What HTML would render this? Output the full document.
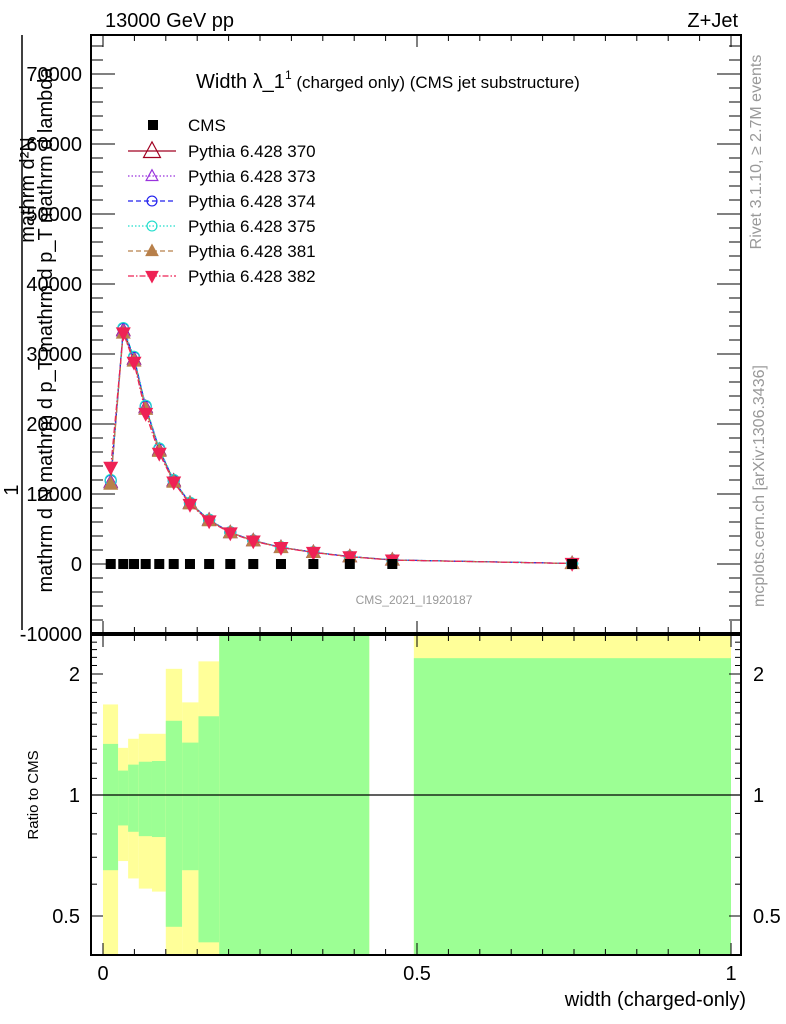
<!DOCTYPE html>
<html><head><meta charset="utf-8"><style>
body{margin:0;background:#fff}
svg{display:block;font-family:"Liberation Sans",sans-serif}
</style></head><body>
<svg id="c" width="786" height="1024" viewBox="0 0 786 1024">
<g id="ratio"></g>
<g id="main"></g>
<text x="105" y="27" font-size="20">13000 GeV pp</text>
<text x="738" y="27" font-size="20" text-anchor="end">Z+Jet</text>
<text x="196" y="88" font-size="20">Width λ_1<tspan font-size="12" dy="-9">1</tspan><tspan font-size="17" dy="9"> (charged only) (CMS jet substructure)</tspan></text>
<text x="414" y="604" font-size="12" fill="#999" text-anchor="middle">CMS_2021_I1920187</text>
<text transform="translate(761,152) rotate(-90)" font-size="16" fill="#999" text-anchor="middle">Rivet 3.1.10, ≥ 2.7M events</text>
<text transform="translate(764,486) rotate(-90)" font-size="16" fill="#999" text-anchor="middle">mcplots.cern.ch [arXiv:1306.3436]</text>
<g>
<text transform="translate(34,190) rotate(-90)" font-size="20" text-anchor="middle">mathrm d²N</text>
<line x1="22" y1="35" x2="22" y2="630" stroke="#000" stroke-width="1.5"/>
<text transform="translate(52,330) rotate(-90)" font-size="20" text-anchor="middle">mathrm d N mathrm d p_T mathrm d p_T mathrm d lambda</text>
<text transform="translate(18,490) rotate(-90)" font-size="20" text-anchor="middle">1</text>
</g>
<text transform="translate(38,795) rotate(-90)" font-size="15" text-anchor="middle">Ratio to CMS</text>
<text x="746" y="1006" font-size="20" text-anchor="end">width (charged-only)</text>
</svg>
<script>
const xEdges=[0,0.024,0.04,0.057,0.078,0.1,0.126,0.152,0.185,0.424,0.495,1.0];
const bandYellowHi=[1.68,1.31,1.38,1.42,1.42,2.06,1.70,2.15,3,null,3];
const bandGreenHi=[1.34,1.15,1.19,1.21,1.215,1.53,1.35,1.57,3,null,2.19];
const bandGreenLo=[0.65,0.84,0.81,0.79,0.786,0.47,0.65,0.43,0.3,null,0.3];
const bandYellowLo=[0.3,0.685,0.62,0.585,0.575,0.3,0.3,0.3,0.3,null,0.3];
const xPts=[0.0123,0.0323,0.0494,0.068,0.0896,0.1126,0.1385,0.169,0.2027,0.2393,0.2834,0.335,0.393,0.4607,0.747];
const cmsVals=[0,0,0,0,0,0,0,0,0,0,0,0,0,0,0];
const mc370=[11700,33400,29300,22400,16300,11900,8700,6300,4500,3350,2380,1680,1060,580,80];
const mc373=[11600,33300,29200,22300,16200,11800,8650,6250,4500,3330,2370,1670,1050,570,80];
const mc374=[11900,33600,29500,22500,16400,11900,8700,6300,4520,3340,2380,1680,1060,580,80];
const mc375=[12000,33700,29600,22600,16500,12000,8750,6320,4540,3350,2390,1690,1070,590,80];
const mc381=[11400,33000,29000,22100,16100,11700,8600,6200,4480,3310,2360,1660,1040,560,70];
const mc382=[13800,33000,28800,21500,15800,11700,8500,6150,4430,3280,2340,1640,1030,560,70];
const yTicks=[0,10000,20000,30000,40000,50000,60000,70000];
const xTickLabels=[0,0.5,1];
const rTicks=[0.5,1,2];
const NS="http://www.w3.org/2000/svg";
const L=91,R=741,T=35,B=633,RT=635,RB=955;
const X=v=>103+v*628;
const Y=v=>564-v*0.007;
const RY=v=>795-Math.log2(v)*121;
function mk(p,t,a){const e=document.createElementNS(NS,t);for(const k in a)e.setAttribute(k,a[k]);p.appendChild(e);return e;}
const main=document.getElementById('main'),ratio=document.getElementById('ratio');
const clipR=v=>Math.max(RT,Math.min(RB,RY(v)));
for(let i=0;i<xEdges.length-1;i++){
 if(bandYellowHi[i]==null)continue;
 const x0=X(xEdges[i]),x1=X(xEdges[i+1]);
 let r=mk(ratio,'rect',{x:x0,y:clipR(bandYellowHi[i]),width:x1-x0,height:clipR(bandYellowLo[i])-clipR(bandYellowHi[i]),fill:'#ffff99'});
 
 
 let g=mk(ratio,'rect',{x:x0,y:clipR(bandGreenHi[i]),width:x1-x0,height:clipR(bandGreenLo[i])-clipR(bandGreenHi[i]),fill:'#9cff94'});
 
 
}
let ln=mk(ratio,'line',{x1:L,x2:R,y1:RY(1),y2:RY(1),stroke:'#000','stroke-width':1.3});


mk(ratio,'rect',{x:L,y:RT,width:R-L,height:RB-RT,fill:'none',stroke:'#000','stroke-width':2});
for(const t of rTicks){
 mk(ratio,'line',{x1:L,x2:L+12,y1:RY(t),y2:RY(t),stroke:'#000'});
 mk(ratio,'line',{x1:R,x2:R-12,y1:RY(t),y2:RY(t),stroke:'#000'});
 let tl=mk(ratio,'text',{x:L-11,y:RY(t)+7,'font-size':20,'text-anchor':'end'});tl.textContent=t;
 
 
 let tr=mk(ratio,'text',{x:R+12,y:RY(t)+7,'font-size':20});tr.textContent=t;
 
 
}
for(let v=0.4;v<=2.5;v+=0.1){if(v>0.99&&v<1.01)continue;const y=RY(v);if(y<RT||y>RB)continue;
 mk(ratio,'line',{x1:L,x2:L+6,y1:y,y2:y,stroke:'#000'});mk(ratio,'line',{x1:R,x2:R-6,y1:y,y2:y,stroke:'#000'});}
for(let v=0;v<=1.0001;v+=0.05){const big=Math.abs(v*2-Math.round(v*2))<1e-6;const h=big?12:6;
 mk(ratio,'line',{x1:X(v),x2:X(v),y1:RB,y2:RB-h,stroke:'#000'});mk(ratio,'line',{x1:X(v),x2:X(v),y1:RT,y2:RT+h,stroke:'#000'});
 mk(main,'line',{x1:X(v),x2:X(v),y1:B,y2:B-h,stroke:'#000'});mk(main,'line',{x1:X(v),x2:X(v),y1:T,y2:T+h,stroke:'#000'});}
for(const t of xTickLabels){let e=mk(ratio,'text',{x:X(t),y:980,'font-size':20,'text-anchor':'middle'});e.textContent=t;
 
 }
mk(main,'rect',{x:L,y:T,width:R-L,height:B-T,fill:'none',stroke:'#000','stroke-width':2});
for(let v=-10000;v<=75000;v+=2000){const y=Y(v);if(y<T||y>B)continue;const big=v%10000===0;
 mk(main,'line',{x1:L,x2:L+(big?24:12),y1:y,y2:y,stroke:'#000'});mk(main,'line',{x1:R,x2:R-(big?24:12),y1:y,y2:y,stroke:'#000'});}
for(const t of yTicks.concat([-10000])){let e=mk(main,'text',{x:L-9,y:Y(t)+7,'font-size':20,'text-anchor':'end'});e.textContent=t;
 
 }
const series=[
 {n:'370',v:mc370,c:'#a00020',d:'',m:'tu',f:false},
 {n:'373',v:mc373,c:'#9933dd',d:'1.5,2',m:'tu',f:false},
 {n:'374',v:mc374,c:'#2020ee',d:'5,3',m:'o',f:false},
 {n:'375',v:mc375,c:'#20ddcc',d:'1.5,2',m:'o',f:false},
 {n:'381',v:mc381,c:'#b8804a',d:'5,3',m:'tu',f:true},
 {n:'382',v:mc382,c:'#ee2255',d:'6,2,1.5,2',m:'td',f:true}];
function marker(p,x,y,s,sz){let e;
 if(s.m==='o')e=mk(p,'circle',{cx:x,cy:y,r:sz*0.55});
 else if(s.m==='tu')e=mk(p,'polygon',{points:`${x},${y-sz*0.7} ${x-sz*0.65},${y+sz*0.5} ${x+sz*0.65},${y+sz*0.5}`});
 else e=mk(p,'polygon',{points:`${x},${y+sz*0.7} ${x-sz*0.65},${y-sz*0.5} ${x+sz*0.65},${y-sz*0.5}`});
 e.setAttribute('fill',s.f?s.c:'none');e.setAttribute('stroke',s.c);e.setAttribute('stroke-width',1.2);return e;}
for(const s of series){
 const g=mk(main,'g',{});
 
 
 mk(g,'polyline',{points:xPts.map((x,i)=>X(x)+','+Y(s.v[i])).join(' '),fill:'none',stroke:s.c,'stroke-width':1.2,'stroke-dasharray':s.d});
 xPts.forEach((x,i)=>{const m=marker(g,X(x),Y(s.v[i]),s,10);
  
  });
}
xPts.forEach((x,i)=>{const r=mk(main,'rect',{x:X(x)-5,y:Y(cmsVals[i])-5,width:10,height:10,fill:'#000'});
 
 });
const lg=mk(main,'g',{});


mk(lg,'rect',{x:148,y:120,width:10,height:10,fill:'#000'});
let lt=mk(lg,'text',{x:188,y:131,'font-size':17,'font-weight':500});lt.textContent='CMS';
series.forEach((s,i)=>{const y=151+i*25;
 const e=mk(lg,'g',{});
 
 
 mk(e,'line',{x1:128,x2:176,y1:y,y2:y,stroke:s.c,'stroke-width':1.2,'stroke-dasharray':s.d});
 marker(e,152,y,s,i===0?13:9);
 const t=mk(e,'text',{x:188,y:y+6,'font-size':17});t.textContent='Pythia 6.428 '+s.n;});
</script>
</body></html>
